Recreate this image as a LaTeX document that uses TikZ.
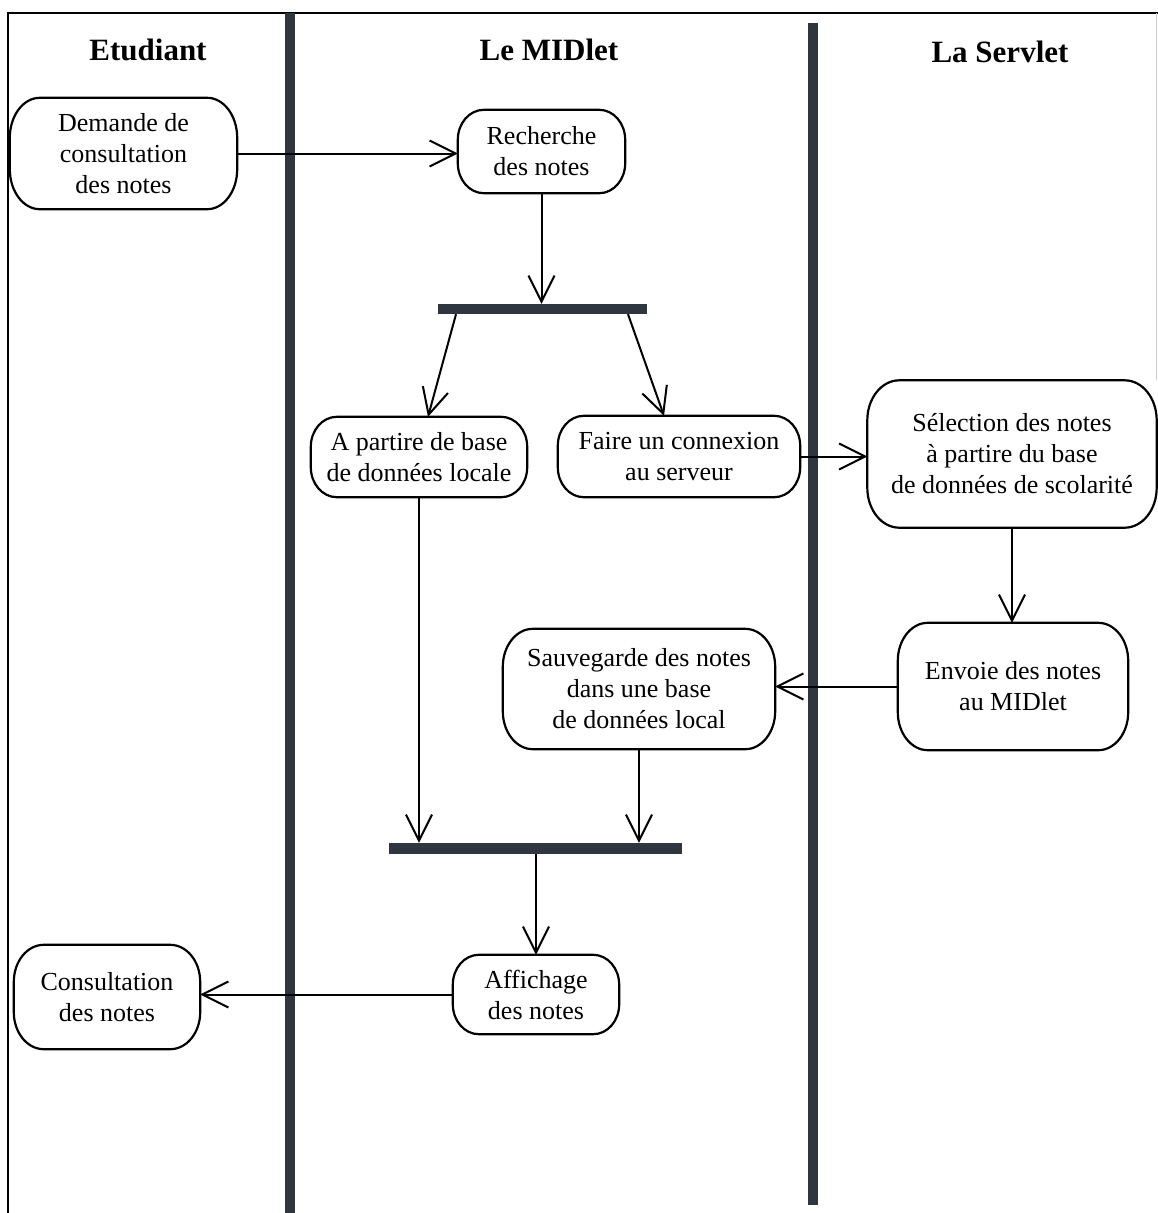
\documentclass[tikz,border=0pt]{standalone}
\usepackage{fontspec}
\setmainfont{Liberation Serif}
\usetikzlibrary{arrows.meta}
\definecolor{lane}{RGB}{48,54,64}
% outline of an activity node: straight sides joined by elliptical corners
% #1 node name, #2 horizontal corner radius, #3 vertical corner radius
\newcommand\activityoutline[3]{%
  \draw[line width=2.2pt]
    ([xshift=#2]#1.north west) -- ([xshift=-#2]#1.north east)
    arc[start angle=90, end angle=0, x radius=#2, y radius=#3]
    -- ([yshift=#3]#1.south east)
    arc[start angle=0, end angle=-90, x radius=#2, y radius=#3]
    -- ([xshift=#2]#1.south west)
    arc[start angle=270, end angle=180, x radius=#2, y radius=#3]
    -- ([yshift=-#3]#1.north west)
    arc[start angle=180, end angle=90, x radius=#2, y radius=#3]
    -- cycle;}
\begin{document}
\begin{tikzpicture}[x=1pt,y=-1pt,
  activity/.style={draw=none, align=center, inner sep=0pt,
    font=\fontsize{26}{31}\selectfont},
  lanetitle/.style={anchor=base, font=\fontsize{31}{36}\selectfont\bfseries},
  bar/.style={draw=none, fill=lane, inner sep=0pt, minimum width=#1},
  flow/.style={line width=2pt, -{Straight Barb[length=26pt,width=26pt,line width=2pt]}},
  lanesep/.style={draw=lane, line width=10pt},
]
\useasboundingbox (0,0) rectangle (1158,1213);

% frame and swimlane separators
\draw[line width=2pt] (8,1213) -- (8,13) -- (1158,13);
\draw[gray!40, line width=1pt] (1156.5,13) -- (1156.5,380);
\draw[lanesep] (290,13) -- (290,1213);
\draw[lanesep] (813,23) -- (813,1205);

% lane titles
\node[lanetitle] (t1) at (148,60) {Etudiant};
\node[lanetitle] (t2) at (549,60) {Le MIDlet};
\node[lanetitle] (t3) at (1000,62) {La Servlet};

% activities
\node[activity, minimum width=227pt, minimum height=111pt] (dem) at (123.5,153.5)
  {Demande de\\consultation\\des notes};
\node[activity, minimum width=167pt, minimum height=83pt] (rech) at (541.5,151.5)
  {Recherche\\des notes};
\node[activity, minimum width=216pt, minimum height=80pt] (loc) at (419,457)
  {A partire de base\\de données locale};
\node[activity, minimum width=242pt, minimum height=81pt] (conn) at (679,456.5)
  {Faire un connexion\\au serveur};
\node[activity, minimum width=289pt, minimum height=147pt] (sel) at (1012,454)
  {Sélection des notes\\à partire du base\\de données de scolarité};
\node[activity, minimum width=230pt, minimum height=127pt] (env) at (1013,686.5)
  {Envoie des notes\\au MIDlet};
\node[activity, minimum width=272pt, minimum height=120pt] (sauv) at (639,689)
  {Sauvegarde des notes\\dans une base\\de données local};
\node[activity, minimum width=166pt, minimum height=79pt] (aff) at (536,994.5)
  {Affichage\\des notes};
\node[activity, minimum width=186pt, minimum height=104pt] (cons) at (107,997)
  {Consultation\\des notes};

\activityoutline{dem}{30pt}{40pt}
\activityoutline{rech}{26pt}{30pt}
\activityoutline{loc}{26pt}{30pt}
\activityoutline{conn}{26pt}{30pt}
\activityoutline{sel}{32pt}{40pt}
\activityoutline{env}{30pt}{38pt}
\activityoutline{sauv}{30pt}{38pt}
\activityoutline{aff}{26pt}{30pt}
\activityoutline{cons}{30pt}{37pt}

% fork and join bars
\node[bar=209pt, minimum height=10pt] (fork) at (542.5,309) {};
\node[bar=293pt, minimum height=11pt] (join) at (535.5,848.5) {};

% control flow
\draw[flow] (dem.east) -- (dem.east -| rech.west);
\draw[flow] (rech.south) -- (rech.south |- fork.north);
\draw[flow] ([xshift=-86.5pt]fork.south) -- ([xshift=9pt]loc.north);
\draw[flow] ([xshift=85.5pt]fork.south) -- ([xshift=-15pt]conn.north);
\draw[flow] (conn.east) -- (conn.east -| sel.west);
\draw[flow] (sel.south) -- (sel.south |- env.north);
\draw[flow] (env.west) -- (env.west -| sauv.east);
\draw[flow] (loc.south) -- (loc.south |- join.north);
\draw[flow] (sauv.south) -- (sauv.south |- join.north);
\draw[flow] (aff.north |- join.south) -- (aff.north);
\draw[flow] (aff.west) -- (aff.west -| cons.east);
\end{tikzpicture}
\end{document}
